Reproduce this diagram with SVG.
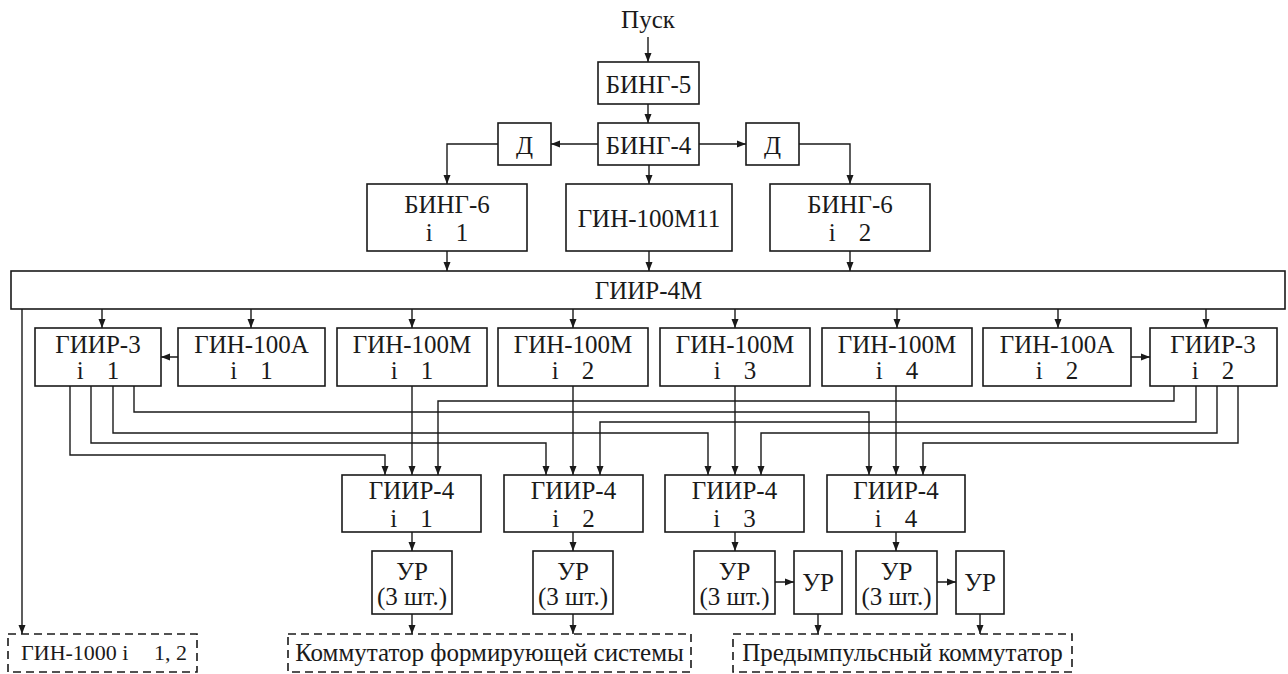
<svg xmlns="http://www.w3.org/2000/svg" width="1288" height="674" viewBox="0 0 1288 674">
<style>
.b{fill:#fff;stroke:#1a1a1a;stroke-width:1.6}
.d{fill:#fff;stroke:#1a1a1a;stroke-width:1.6;stroke-dasharray:8 5}
.c{fill:none;stroke:#1a1a1a;stroke-width:1.4}
.h{fill:#1a1a1a}
.t{font-size:25px;fill:#1a1a1a;text-anchor:middle}
.s{font-size:22px}
</style>
<defs>
<path id="ah" d="M0,0 L-9,-3.5 L-9,3.5 z"/>
</defs>
<rect width="1288" height="674" fill="#fff"/>
<g id="connectors">
<path class="c" d="M648,37 V62 M648,104 V123 M598,144 H551 M699,144 H746 M498,144 H447 V184 M799,144 H850 V184 M649,165 V184 M447,251 V271 M649,251 V271 M850,251 V271"/>
<path class="c" d="M102,309 V328 M251,309 V328 M412,309 V328 M573,309 V328 M735,309 V328 M897,309 V328 M1058,309 V328 M1206,309 V328 M178,357 H161 M1131,357 H1150 M22,309 V634"/>
<path class="c" d="M70,386 V455 H385 V475 M91,386 V443 H546 V475 M113,386 V433 H708 V475 M134,386 V412 H869 V475"/>
<path class="c" d="M1174,386 V401 H438 V475 M1196,386 V422 H600 V475 M1217,386 V433 H761 V475 M1238,386 V443 H923 V475"/>
<path class="c" d="M412,386 V475 M573,386 V475 M735,386 V475 M896,386 V475 M412,532 V551 M573,532 V551 M735,532 V551 M896,532 V551"/>
<path class="c" d="M775,582 H794 M937,582 H956 M412,614 V634 M573,614 V634 M818,614 V634 M980,614 V634"/>
<g class="h">
<use href="#ah" transform="translate(648,62) rotate(90)"/>
<use href="#ah" transform="translate(648,123) rotate(90)"/>
<use href="#ah" transform="translate(551,144) rotate(180)"/>
<use href="#ah" transform="translate(746,144)"/>
<use href="#ah" transform="translate(447,184) rotate(90)"/>
<use href="#ah" transform="translate(850,184) rotate(90)"/>
<use href="#ah" transform="translate(649,184) rotate(90)"/>
<use href="#ah" transform="translate(447,271) rotate(90)"/>
<use href="#ah" transform="translate(649,271) rotate(90)"/>
<use href="#ah" transform="translate(850,271) rotate(90)"/>
<use href="#ah" transform="translate(102,328) rotate(90)"/>
<use href="#ah" transform="translate(251,328) rotate(90)"/>
<use href="#ah" transform="translate(412,328) rotate(90)"/>
<use href="#ah" transform="translate(573,328) rotate(90)"/>
<use href="#ah" transform="translate(735,328) rotate(90)"/>
<use href="#ah" transform="translate(897,328) rotate(90)"/>
<use href="#ah" transform="translate(1058,328) rotate(90)"/>
<use href="#ah" transform="translate(1206,328) rotate(90)"/>
<use href="#ah" transform="translate(161,357) rotate(180)"/>
<use href="#ah" transform="translate(1150,357)"/>
<use href="#ah" transform="translate(22,634) rotate(90)"/>
<use href="#ah" transform="translate(385,475) rotate(90)"/>
<use href="#ah" transform="translate(412,475) rotate(90)"/>
<use href="#ah" transform="translate(438,475) rotate(90)"/>
<use href="#ah" transform="translate(546,475) rotate(90)"/>
<use href="#ah" transform="translate(573,475) rotate(90)"/>
<use href="#ah" transform="translate(600,475) rotate(90)"/>
<use href="#ah" transform="translate(708,475) rotate(90)"/>
<use href="#ah" transform="translate(735,475) rotate(90)"/>
<use href="#ah" transform="translate(761,475) rotate(90)"/>
<use href="#ah" transform="translate(869,475) rotate(90)"/>
<use href="#ah" transform="translate(896,475) rotate(90)"/>
<use href="#ah" transform="translate(923,475) rotate(90)"/>
<use href="#ah" transform="translate(412,551) rotate(90)"/>
<use href="#ah" transform="translate(573,551) rotate(90)"/>
<use href="#ah" transform="translate(735,551) rotate(90)"/>
<use href="#ah" transform="translate(896,551) rotate(90)"/>
<use href="#ah" transform="translate(794,582)"/>
<use href="#ah" transform="translate(956,582)"/>
<use href="#ah" transform="translate(412,634) rotate(90)"/>
<use href="#ah" transform="translate(573,634) rotate(90)"/>
<use href="#ah" transform="translate(818,634) rotate(90)"/>
<use href="#ah" transform="translate(980,634) rotate(90)"/>
</g>
</g>
<g id="nodes" font-family="Liberation Serif">
<g id="start"><text class="t" x="648" y="28">Пуск</text></g>
<g id="bing5"><rect class="b" x="598" y="62" width="101" height="42"/><text class="t" x="648.5" y="93">БИНГ-5</text></g>
<g id="bing4"><rect class="b" x="598" y="123" width="101" height="42"/><text class="t" x="648.5" y="154">БИНГ-4</text></g>
<g id="d-left"><rect class="b" x="498" y="123" width="53" height="42"/><text class="t" x="524.5" y="154">Д</text></g>
<g id="d-right"><rect class="b" x="746" y="123" width="53" height="42"/><text class="t" x="772.5" y="154">Д</text></g>
<g id="bing6-1"><rect class="b" x="367" y="184" width="160" height="67"/><text class="t" x="447" y="213">БИНГ-6</text><text class="t" x="447" y="241">i <tspan dx="17">1</tspan></text></g>
<g id="gin100m11"><rect class="b" x="566" y="184" width="166" height="67"/><text class="t" x="649" y="227">ГИН-100М11</text></g>
<g id="bing6-2"><rect class="b" x="770" y="184" width="160" height="67"/><text class="t" x="850" y="213">БИНГ-6</text><text class="t" x="850" y="241">i <tspan dx="17">2</tspan></text></g>
<g id="giir4m"><rect class="b" x="11" y="271" width="1274" height="38"/><text class="t" x="648.5" y="299">ГИИР-4М</text></g>
<g id="giir3-1"><rect class="b" x="35" y="328" width="126" height="58"/><text class="t" x="98" y="353">ГИИР-3</text><text class="t" x="98" y="379">i <tspan dx="17">1</tspan></text></g>
<g id="gin100a-1"><rect class="b" x="178" y="328" width="147" height="58"/><text class="t" x="251.5" y="353">ГИН-100А</text><text class="t" x="251.5" y="379">i <tspan dx="17">1</tspan></text></g>
<g id="gin100m-1"><rect class="b" x="337" y="328" width="150" height="58"/><text class="t" x="412" y="353">ГИН-100М</text><text class="t" x="412" y="379">i <tspan dx="17">1</tspan></text></g>
<g id="gin100m-2"><rect class="b" x="498" y="328" width="150" height="58"/><text class="t" x="573" y="353">ГИН-100М</text><text class="t" x="573" y="379">i <tspan dx="17">2</tspan></text></g>
<g id="gin100m-3"><rect class="b" x="660" y="328" width="150" height="58"/><text class="t" x="735" y="353">ГИН-100М</text><text class="t" x="735" y="379">i <tspan dx="17">3</tspan></text></g>
<g id="gin100m-4"><rect class="b" x="822" y="328" width="150" height="58"/><text class="t" x="897" y="353">ГИН-100М</text><text class="t" x="897" y="379">i <tspan dx="17">4</tspan></text></g>
<g id="gin100a-2"><rect class="b" x="983" y="328" width="148" height="58"/><text class="t" x="1057" y="353">ГИН-100А</text><text class="t" x="1057" y="379">i <tspan dx="17">2</tspan></text></g>
<g id="giir3-2"><rect class="b" x="1150" y="328" width="127" height="58"/><text class="t" x="1213" y="353">ГИИР-3</text><text class="t" x="1213" y="379">i <tspan dx="17">2</tspan></text></g>
<g id="giir4-1"><rect class="b" x="342" y="475" width="139" height="57"/><text class="t" x="411.5" y="499">ГИИР-4</text><text class="t" x="411.5" y="527">i <tspan dx="17">1</tspan></text></g>
<g id="giir4-2"><rect class="b" x="504" y="475" width="139" height="57"/><text class="t" x="573.5" y="499">ГИИР-4</text><text class="t" x="573.5" y="527">i <tspan dx="17">2</tspan></text></g>
<g id="giir4-3"><rect class="b" x="665" y="475" width="139" height="57"/><text class="t" x="734.5" y="499">ГИИР-4</text><text class="t" x="734.5" y="527">i <tspan dx="17">3</tspan></text></g>
<g id="giir4-4"><rect class="b" x="827" y="475" width="138" height="57"/><text class="t" x="896" y="499">ГИИР-4</text><text class="t" x="896" y="527">i <tspan dx="17">4</tspan></text></g>
<g id="ur-1"><rect class="b" x="372" y="551" width="80" height="63"/><text class="t" x="412" y="580">УР</text><text class="t" x="412" y="605">(3 шт.)</text></g>
<g id="ur-2"><rect class="b" x="533" y="551" width="80" height="63"/><text class="t" x="573" y="580">УР</text><text class="t" x="573" y="605">(3 шт.)</text></g>
<g id="ur-3"><rect class="b" x="694" y="551" width="81" height="63"/><text class="t" x="734.5" y="580">УР</text><text class="t" x="734.5" y="605">(3 шт.)</text></g>
<g id="ur-3b"><rect class="b" x="794" y="551" width="48" height="63"/><text class="t" x="818" y="591">УР</text></g>
<g id="ur-4"><rect class="b" x="856" y="551" width="81" height="63"/><text class="t" x="896.5" y="580">УР</text><text class="t" x="896.5" y="605">(3 шт.)</text></g>
<g id="ur-4b"><rect class="b" x="956" y="551" width="48" height="63"/><text class="t" x="980" y="591">УР</text></g>
<g id="gin1000"><rect class="d" x="8" y="634" width="189" height="38"/><text class="t s" x="104" y="660">ГИН-1000 i <tspan dx="20">1, 2</tspan></text></g>
<g id="kommutator-fs"><rect class="d" x="288" y="634" width="403" height="38"/><text class="t" x="489.5" y="661">Коммутатор формирующей системы</text></g>
<g id="predimp"><rect class="d" x="733" y="634" width="339" height="38"/><text class="t" x="902.5" y="661">Предымпульсный коммутатор</text></g>
</g>
</svg>
